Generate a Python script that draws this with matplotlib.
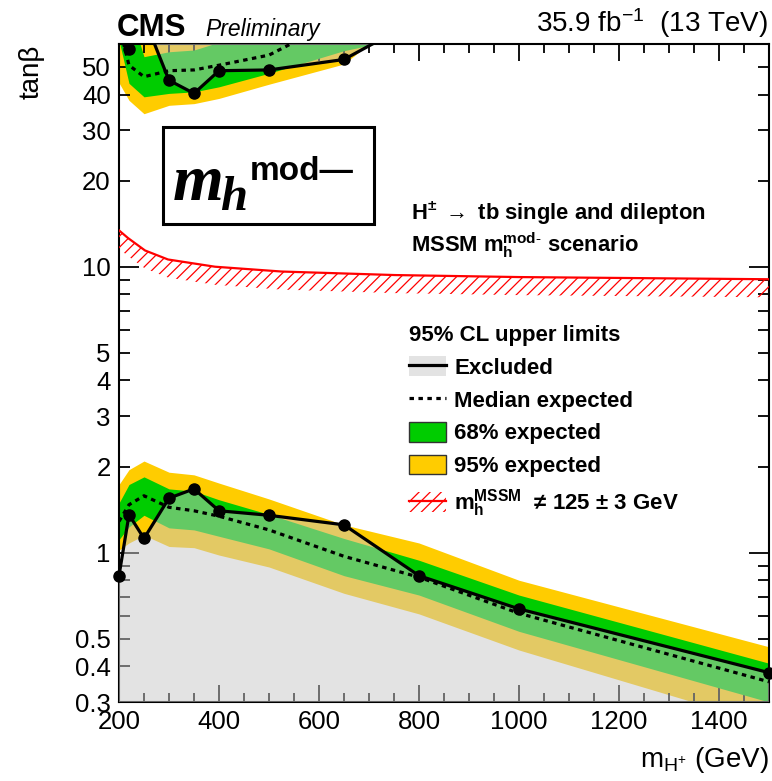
import matplotlib
matplotlib.use("Agg")
import matplotlib.pyplot as plt
import matplotlib.patches as mpatches
from matplotlib.lines import Line2D
from matplotlib.ticker import FixedLocator, FuncFormatter, NullFormatter
import numpy as np

plt.rcParams['font.family'] = ['Liberation Sans', 'DejaVu Sans']
plt.rcParams['mathtext.fontset'] = 'custom'
plt.rcParams['mathtext.rm'] = 'Liberation Sans'
plt.rcParams['mathtext.bf'] = 'Liberation Sans:bold'
plt.rcParams['mathtext.it'] = 'Liberation Sans:italic'
plt.rcParams['hatch.linewidth'] = 0.9

# ---------------- data ----------------
# low tan(beta) region
mass_low = [200, 220, 250, 300, 350, 400, 500, 650, 800, 1000, 1500]
obs_low = [0.83, 1.356, 1.12, 1.55, 1.67, 1.40, 1.35, 1.25, 0.83, 0.635, 0.38]
exp_low = [1.285, 1.47, 1.58, 1.44, 1.40, 1.34, 1.20, 0.97, 0.82, 0.613, 0.353]
exp68_lo_low = [1.11, 1.23, 1.35, 1.22, 1.20, 1.14, 1.03, 0.83, 0.71, 0.53, 0.30]
exp68_hi_low = [1.49, 1.73, 1.84, 1.67, 1.64, 1.53, 1.36, 1.12, 0.94, 0.71, 0.41]
exp95_lo_low = [1.02, 1.08, 1.15, 1.05, 1.04, 0.98, 0.89, 0.72, 0.61, 0.456, 0.25]
exp95_hi_low = [1.73, 1.95, 2.09, 1.91, 1.87, 1.75, 1.54, 1.25, 1.08, 0.80, 0.468]

# high tan(beta) region
mass_high = [200, 220, 250, 300, 350, 400, 500, 650, 800]
exp_high = [70, 50.7, 46.2, 48.5, 48.8, 50.7, 55.0, 75, 90]
exp68_lo_high = [62, 43.8, 39.3, 40.4, 40.9, 42.6, 47.5, 57, 64.7]
exp68_hi_high = [85, 80, 54.3, 56.5, 57.3, 61, 75, 90, 110]
exp95_lo_high = [44, 38.2, 34.3, 36.7, 37.2, 38.8, 43.5, 51.2, 83]
exp95_hi_high = [110, 100, 90, 80, 80, 90, 100, 120, 150]
mass_obs_high = [220, 250, 300, 350, 400, 500, 650, 800]
obs_high = [58.0, 74.4, 44.9, 40.4, 48.5, 48.8, 53.1, 73.8]

# m_h^MSSM != 125 +- 3 GeV contour
mass_mh = [200, 218, 252, 298, 392, 525, 752, 1000, 1500]
tanb_mh = [13.4, 12.6, 11.4, 10.6, 10.0, 9.62, 9.35, 9.2, 9.04]

x_ticks = [200, 400, 600, 800, 1000, 1200, 1400]
y_labelled = [0.3, 0.4, 0.5, 1, 2, 3, 4, 5, 10, 20, 30, 40, 50]

# ---------------- styling ----------------
W, H = 772, 781
YELLOW = '#ffcc00'
GREEN = '#00cc00'
GREY = '#c8c8c8'
fig = plt.figure(figsize=(W / 100, H / 100), dpi=100)

def fx(p):
    return p / W

def fy(p):
    return 1 - p / H

L, R, T, B = 119, 769, 44.3, 702
ax = fig.add_axes([fx(L), fy(B), fx(R) - fx(L), fy(T) - fy(B)])
ax.set_yscale('log')
ax.set_xlim(200, 1500)
ax.set_ylim(0.3, 60)

# bands
ax.fill_between(mass_low, exp95_lo_low, exp95_hi_low, color=YELLOW, lw=0, zorder=1)
ax.fill_between(mass_low, exp68_lo_low, exp68_hi_low, color=GREEN, lw=0, zorder=2)
ax.fill_between(mass_high, exp95_lo_high, exp95_hi_high, color=YELLOW, lw=0, zorder=1)
ax.fill_between(mass_high, exp68_lo_high, exp68_hi_high, color=GREEN, lw=0, zorder=2)

# excluded regions
ax.fill_between(mass_low, 1e-3, obs_low, color=GREY, alpha=0.5, lw=0, zorder=3)
ax.fill_between(mass_obs_high, obs_high, 1e4, color=GREY, alpha=0.5, lw=0, zorder=3)

# expected
ax.plot(mass_low, exp_low, color='k', lw=2.3, ls=(0, (1.4, 1.4)), zorder=4)
ax.plot(mass_high, exp_high, color='k', lw=2.3, ls=(0, (1.4, 1.4)), zorder=4)

# observed
ax.plot(mass_low, obs_low, color='k', lw=2.3, marker='o', ms=8, zorder=5, clip_on=False)
ax.plot(mass_obs_high, obs_high, color='k', lw=2.3, marker='o', ms=8, zorder=5)

# mh contour
mh = np.array(tanb_mh)
hatch_w = 10 ** (-18 / 285.0)
ax.fill_between(mass_mh, mh * hatch_w, mh, facecolor='none', edgecolor='red',
                hatch='///', lw=0, zorder=3)
ax.plot(mass_mh, tanb_mh, color='red', lw=1.6, zorder=4)

# axes styling
for s in ax.spines.values():
    s.set_linewidth(1.5)
ax.xaxis.set_major_locator(FixedLocator(x_ticks))
ax.xaxis.set_minor_locator(FixedLocator(np.arange(200, 1501, 50)))
ax.yaxis.set_major_locator(FixedLocator([1, 10]))
minor_y = [0.3, 0.4, 0.5, 0.6, 0.7, 0.8, 0.9, 2, 3, 4, 5, 6, 7, 8, 9, 20, 30, 40, 50]
ax.yaxis.set_minor_locator(FixedLocator(minor_y))

def yfmt(v, pos):
    for t in y_labelled:
        if abs(v - t) < 1e-6 * t:
            return ('%g' % t)
    return ''

ax.yaxis.set_major_formatter(FuncFormatter(yfmt))
ax.yaxis.set_minor_formatter(FuncFormatter(yfmt))
ax.xaxis.set_major_formatter(FuncFormatter(lambda v, p: '%d' % v))
ax.xaxis.set_minor_formatter(NullFormatter())

ax.tick_params(axis='both', which='both', direction='in', top=True, right=True,
               width=1.3, labelsize=18.5, colors='k')
ax.tick_params(axis='x', which='major', length=12.5, pad=6)
ax.tick_params(axis='x', which='minor', length=6.5)
ax.tick_params(axis='y', which='major', length=14.5, pad=6)
ax.tick_params(axis='y', which='minor', length=8, pad=6, labelsize=18.5)

ax.set_ylabel('tanβ', fontsize=20, loc='top', labelpad=22)
ax.set_xlabel(r'm$_{\mathregular{H^{+}}}$ (GeV)', fontsize=20, loc='right', labelpad=8)

# header texts
fig.text(fx(117), fy(36.5), 'CMS', fontsize=22.5, fontweight='bold', va='baseline', ha='left')
fig.text(fx(205), fy(36), 'Preliminary', fontsize=16.5, style='italic', va='baseline', ha='left')
fig.text(fx(768), fy(32), r'35.9 fb$^{\mathregular{-1}}$  (13 TeV)', fontsize=20,
         va='baseline', ha='right')

# scenario box
fig.add_artist(mpatches.Rectangle((fx(162.7), fy(224)), fx(374.3) - fx(162.7), fy(126.7) - fy(224),
                                  transform=fig.transFigure, facecolor='white', edgecolor='k',
                                  lw=2.2, zorder=6))
fig.text(fx(173), fy(200), 'm', fontsize=47, family='Liberation Serif', fontweight='bold',
         style='italic', va='baseline', ha='left', zorder=7)
fig.text(fx(220), fy(210), 'h', fontsize=35, family='Liberation Serif', fontweight='bold',
         style='italic', va='baseline', ha='left', zorder=7)
fig.text(fx(250), fy(180), 'mod\u2014', fontsize=24, family='Liberation Sans', fontweight='bold',
         va='baseline', ha='left', zorder=7)

# description
fig.text(fx(411), fy(220), r'H$^{\mathbf{\pm}}$ $\rightarrow$ tb single and dilepton', fontsize=15.8,
         fontweight='bold', va='baseline', ha='left')
fig.text(fx(411), fy(251.5), r'MSSM $\mathbf{m_h^{mod\text{-}}}$ scenario', fontsize=15.8,
         fontweight='bold', va='baseline', ha='left')

# legend
h_excl = (mpatches.Patch(facecolor='#e3e3e3', edgecolor='none'), Line2D([], [], color='k', lw=2.3))
h_med = Line2D([], [], color='k', lw=2.3, ls=(0, (1.4, 1.4)))
h_68 = mpatches.Patch(facecolor=GREEN, edgecolor='#333333', lw=1.0)
h_95 = mpatches.Patch(facecolor=YELLOW, edgecolor='#333333', lw=1.0)
h_mh = (mpatches.Patch(facecolor='none', edgecolor='red', hatch='///', lw=0), Line2D([], [], color='red', lw=1.6))
leg = fig.legend([h_excl, h_med, h_68, h_95, h_mh],
                 ['Excluded', 'Median expected', '68% expected', '95% expected',
                  r'$\mathbf{m_h^{MSSM}}$  ≠ 125 ± 3 GeV'],
                 title='95% CL upper limits', alignment='left', loc='upper left',
                 bbox_to_anchor=(fx(409), fy(325)), bbox_transform=fig.transFigure,
                 frameon=False, borderpad=0, borderaxespad=0,
                 prop={'weight': 'bold', 'size': 16},
                 title_fontproperties={'weight': 'bold', 'size': 16},
                 handlelength=1.65, handleheight=1.0, handletextpad=0.38, labelspacing=0.46)

fig.savefig('out.png', dpi=100)
